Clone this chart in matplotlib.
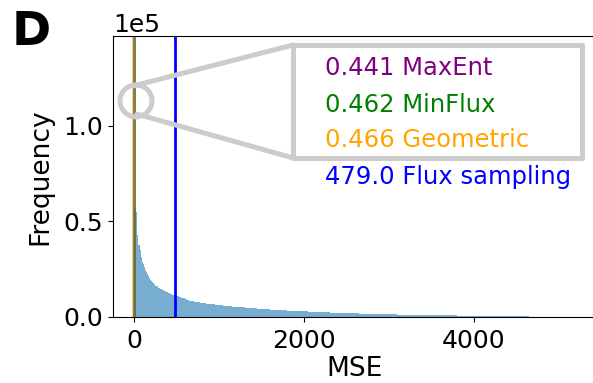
import numpy as np
import matplotlib.pyplot as plt
from matplotlib.patches import Ellipse, Rectangle

# histogram bin heights (MSE of flux sampling), finer bins near zero
fine_edges = [0, 12.5, 25, 37.5, 50, 62.5, 75, 87.5, 100, 112.5, 125, 137.5,
              150, 162.5, 175, 187.5, 200, 212.5, 225, 237.5]
fine_counts = [57000, 56000, 55000, 43000, 37500, 35000, 31500, 29000, 27500,
               26000, 24500, 23300, 22300, 21300, 20400, 19600, 18900, 18300,
               17700, 17100]
mid_edges = [250, 275, 300, 325, 350, 375, 400, 425, 450, 475, 500, 525, 550,
             575, 600, 625, 650, 675, 700, 725, 750, 775, 800, 825, 850, 875,
             900, 925, 950, 975]
mid_counts = [16300, 15400, 14700, 14000, 13400, 12900, 12400, 12000, 11600,
              11200, 10800, 10400, 10100, 9800, 9400, 9000, 8600, 8300, 8100,
              7900, 7700, 7500, 7300, 7150, 7000, 6850, 6700, 6550, 6400, 6250]
tail_edges = [1000, 1050, 1100, 1150, 1200, 1250, 1300, 1350, 1400, 1450,
              1500, 1550, 1600, 1650, 1700, 1750, 1800, 1850, 1900, 1950,
              2000, 2050, 2100, 2150, 2200, 2250, 2300, 2350, 2400, 2450,
              2500, 2550, 2600, 2650, 2700, 2750, 2800, 2850, 2900, 2950,
              3000, 3050, 3100, 3150, 3200, 3250, 3300, 3350, 3400, 3450,
              3500, 3550, 3600, 3650, 3700, 3750, 3800, 3850, 3900, 3950,
              4000, 4050, 4100, 4150, 4200, 4250, 4300, 4350, 4400, 4450,
              4500, 4550, 4600, 4650, 4700, 4750, 4800, 4850, 4900, 4950,
              5000, 5050, 5100, 5150]
tail_counts = [6100, 5850, 5650, 5450, 5250, 5050, 4850, 4700, 4500, 4350,
               4200, 4050, 3900, 3750, 3650, 3500, 3400, 3250, 3150, 3050,
               2950, 2850, 2750, 2650, 2550, 2450, 2350, 2270, 2190, 2110,
               2030, 1950, 1880, 1810, 1740, 1670, 1610, 1550, 1490, 1440,
               1390, 1340, 1290, 1240, 1200, 1160, 1120, 1080, 1040, 1000,
               970, 940, 900, 860, 830, 790, 760, 730, 700, 670,
               640, 610, 580, 550, 520, 490, 460, 430, 400, 370,
               340, 310, 280, 250, 220, 190, 160, 130, 100, 80,
               60, 40, 25, 10]
last_edge = 5200

# MSE of each method
methods = ['MaxEnt', 'MinFlux', 'Geometric', 'Flux sampling']
mse = [0.441, 0.462, 0.466, 479.0]
colors = ['purple', 'green', 'orange', 'blue']

edges = np.array(fine_edges + mid_edges + tail_edges + [last_edge])
counts = np.array(fine_counts + mid_counts + tail_counts)

fig = plt.figure(figsize=(5.93, 3.83), dpi=100)
ax = fig.add_axes([113 / 593, 66 / 383, 484 / 593, 281 / 383])

ax.hist(edges[:-1], bins=edges, weights=counts, color='C0', alpha=0.6)

# the three near-zero methods overlap into one line
ax.axvline(mse[2], color=colors[2], lw=3.0, alpha=0.5)
ax.axvline(mse[0], color=colors[0], lw=2.0, alpha=0.4)
ax.axvline(mse[1], color=colors[1], lw=2.0, alpha=0.4)
ax.axvline(mse[3], color=colors[3], lw=2)

ax.set_xlim(-250, 5450)
ax.set_ylim(0, 1.47e5)
ax.set_xticks([0, 2000, 4000])
ax.set_yticks([0, 50000, 100000])
ax.ticklabel_format(axis='y', style='sci', scilimits=(0, 0))
ax.tick_params(labelsize=18)
ax.tick_params(axis='x', pad=5.5)
ax.yaxis.get_offset_text().set_fontsize(18)
ax.set_xlabel('MSE', fontsize=19, labelpad=2)
ax.set_ylabel('Frequency', fontsize=19, labelpad=7)

# zoom marker around the three near-zero methods
grey = '#cccccc'
ax.add_patch(Ellipse((0.0475, 0.769), 0.066, 0.114, transform=ax.transAxes,
                     fill=False, ec=grey, lw=3.6, zorder=4))
ax.add_patch(Rectangle((0.372, 0.566), 0.596, 0.402, transform=ax.transAxes,
                       fill=False, ec=grey, lw=3.6, joinstyle='round', zorder=4))
ax.plot([0.0413, 0.372], [0.822, 0.968], color=grey, lw=3.6,
        transform=ax.transAxes, solid_capstyle='round', zorder=4)
ax.plot([0.0496, 0.372], [0.722, 0.566], color=grey, lw=3.6,
        transform=ax.transAxes, solid_capstyle='round', zorder=4)

text_y = [0.861, 0.731, 0.604, 0.473]
for m, v, c, y in zip(methods, mse, colors, text_y):
    ax.text(0.438, y, f'{v} {m}', color=c, fontsize=17.5,
            transform=ax.transAxes, va='baseline', zorder=5)

fig.text(12 / 593, 1 - 45 / 383, 'D', fontsize=34, fontweight='bold',
         va='baseline')

fig.savefig('out.png', dpi=100)
